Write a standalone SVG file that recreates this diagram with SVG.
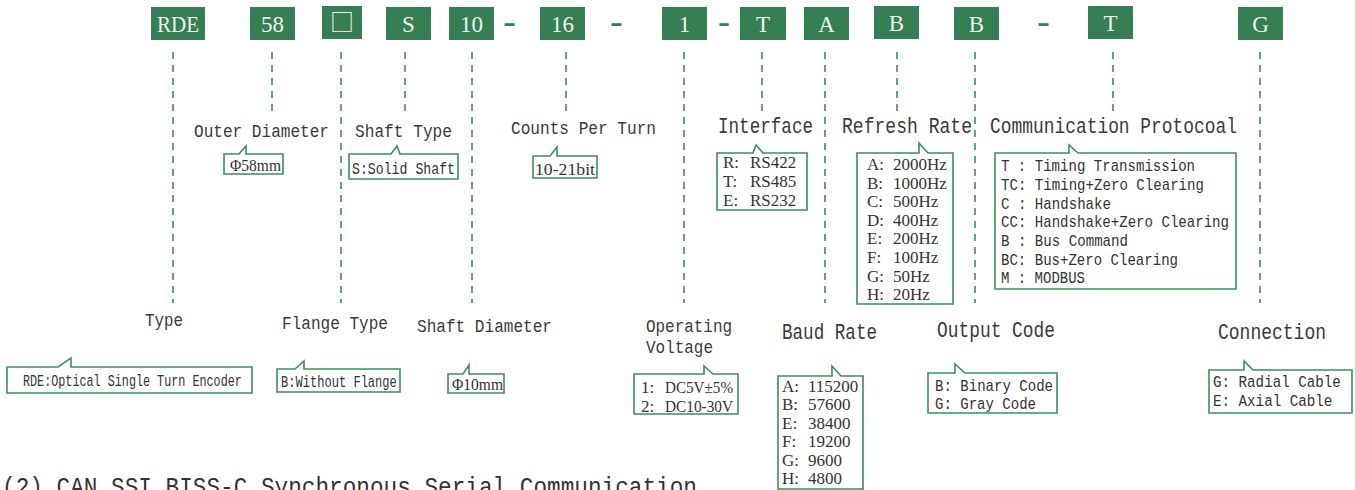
<svg xmlns="http://www.w3.org/2000/svg" width="1355" height="490" viewBox="0 0 1355 490">
<style>
.code{fill:#367e53}
.ct{font-family:"Liberation Serif",serif;font-size:23px;fill:#eef4ef;text-anchor:middle}
.dash{font-family:"Liberation Sans",sans-serif;font-weight:bold;font-size:24px;fill:#367e53}
.lead{stroke:#3f8d5e;stroke-width:1.6;stroke-dasharray:7 6;fill:none}
.ti{font-family:"Liberation Mono",monospace;font-size:19px;fill:#3a3a3a}
.tb{font-family:"Liberation Mono",monospace;font-size:22px;fill:#3a3a3a}
.call{fill:#fff;stroke:#3f8d5e;stroke-width:1.6}
.m{font-family:"Liberation Mono",monospace;font-size:17px;fill:#333}
.ms{font-family:"Liberation Mono",monospace;font-size:16px;fill:#333}
.s{font-family:"Liberation Serif","Noto Sans CJK SC",serif;font-size:17px;fill:#333}
</style>
<rect width="1355" height="490" fill="#fff"/>
<g id="connectors">
<line class="lead" x1="173" y1="52" x2="173" y2="303"/>
<line class="lead" x1="272" y1="52" x2="272" y2="117"/>
<line class="lead" x1="341" y1="52" x2="341" y2="303"/>
<line class="lead" x1="405" y1="52" x2="405" y2="117"/>
<line class="lead" x1="472" y1="52" x2="472" y2="303"/>
<line class="lead" x1="566" y1="52" x2="566" y2="117"/>
<line class="lead" x1="684" y1="52" x2="684" y2="303"/>
<line class="lead" x1="762" y1="52" x2="762" y2="117"/>
<line class="lead" x1="825" y1="52" x2="825" y2="303"/>
<line class="lead" x1="897" y1="52" x2="897" y2="117"/>
<line class="lead" x1="975" y1="52" x2="975" y2="303"/>
<line class="lead" x1="1113" y1="52" x2="1113" y2="114"/>
<line class="lead" x1="1260" y1="52" x2="1260" y2="303"/>
</g>
<g id="separators">
<text class="dash" x="503" y="31" textLength="13" lengthAdjust="spacingAndGlyphs">-</text>
<text class="dash" x="610" y="31" textLength="13" lengthAdjust="spacingAndGlyphs">-</text>
<text class="dash" x="718" y="31" textLength="12" lengthAdjust="spacingAndGlyphs">-</text>
<text class="dash" x="1037" y="31" textLength="13" lengthAdjust="spacingAndGlyphs">-</text>
</g>
<g id="type">
<rect class="code" x="151" y="7" width="54" height="33"/>
<text class="ct" x="178" y="32" textLength="42" lengthAdjust="spacingAndGlyphs">RDE</text>
<text class="ti" x="145" y="326" textLength="38" lengthAdjust="spacingAndGlyphs">Type</text>
<path class="call" d="M7,367 H58 L71,358 V367 H252 V393 H7 Z"/>
<text class="ms" x="0" y="0" transform="translate(23,386) scale(0.736,1)">RDE:Optical Single Turn Encoder</text>
</g>
<g id="outer-diameter">
<rect class="code" x="250" y="7" width="45" height="33"/>
<text class="ct" x="272.5" y="32">58</text>
<text class="ti" x="194" y="137" textLength="135" lengthAdjust="spacingAndGlyphs">Outer Diameter</text>
<path class="call" d="M224,154 H239 L246,146 V154 H283 V174 H224 Z"/>
<text class="s" x="230" y="171" textLength="51" lengthAdjust="spacingAndGlyphs">Φ58mm</text>
</g>
<g id="flange-type">
<rect class="code" x="322" y="6" width="40" height="33"/>
<text x="342" y="31" font-family="Noto Sans CJK SC,sans-serif" font-size="24" fill="#eef4ef" text-anchor="middle">□</text>
<text class="ti" x="282" y="329" textLength="106" lengthAdjust="spacingAndGlyphs">Flange Type</text>
<path class="call" d="M277,369 H295 L304,361 V369 H400 V392 H277 Z"/>
<text class="ms" x="0" y="0" transform="translate(281,387) scale(0.755,1)">B:Without Flange</text>
</g>
<g id="shaft-type">
<rect class="code" x="386" y="7" width="45" height="33"/>
<text class="ct" x="408.5" y="32">S</text>
<text class="ti" x="355" y="137" textLength="97" lengthAdjust="spacingAndGlyphs">Shaft Type</text>
<path class="call" d="M349,154 H391 L397,146 L400,154 H458 V179 H349 Z"/>
<text class="ms" x="352" y="174" textLength="103" lengthAdjust="spacingAndGlyphs">S:Solid Shaft</text>
</g>
<g id="shaft-diameter">
<rect class="code" x="449" y="7" width="45" height="33"/>
<text class="ct" x="471.5" y="32">10</text>
<text class="ti" x="417" y="332" textLength="135" lengthAdjust="spacingAndGlyphs">Shaft Diameter</text>
<path class="call" d="M448,374 H463 L469,365 V374 H504 V393 H448 Z"/>
<text class="s" x="452" y="390" textLength="51" lengthAdjust="spacingAndGlyphs">Φ10mm</text>
</g>
<g id="counts-per-turn">
<rect class="code" x="540" y="7" width="45" height="33"/>
<text class="ct" x="562.5" y="32">16</text>
<text class="ti" x="511" y="134" textLength="145" lengthAdjust="spacingAndGlyphs">Counts Per Turn</text>
<path class="call" d="M533,156 H550 L557,147 V156 H597 V178 H533 Z"/>
<text class="s" x="535" y="175" textLength="60" lengthAdjust="spacingAndGlyphs">10-21bit</text>
</g>
<g id="operating-voltage">
<rect class="code" x="662" y="7" width="45" height="33"/>
<text class="ct" x="684.5" y="32">1</text>
<text class="ti" x="646" y="332" textLength="86" lengthAdjust="spacingAndGlyphs">Operating</text>
<text class="ti" x="646" y="353" textLength="67" lengthAdjust="spacingAndGlyphs">Voltage</text>
<path class="call" d="M634,374 H704 V366 L713,374 H738 V414 H634 Z"/>
<text class="s" x="641" y="393">1:</text>
<text class="s" x="665" y="393" textLength="68" lengthAdjust="spacingAndGlyphs">DC5V±5%</text>
<text class="s" x="641" y="412">2:</text>
<text class="s" x="665" y="412" textLength="68" lengthAdjust="spacingAndGlyphs">DC10-30V</text>
</g>
<g id="interface">
<rect class="code" x="740" y="7" width="46" height="33"/>
<text class="ct" x="763" y="32">T</text>
<text class="tb" x="718" y="133" textLength="95" lengthAdjust="spacingAndGlyphs">Interface</text>
<path class="call" d="M717,153 H753 L756,145 L763,153 H807 V210 H717 Z"/>
<text class="s" x="723" y="168">R:<tspan x="750">RS422</tspan></text>
<text class="s" x="723" y="187">T:<tspan x="750">RS485</tspan></text>
<text class="s" x="723" y="206">E:<tspan x="750">RS232</tspan></text>
</g>
<g id="baud-rate">
<rect class="code" x="804" y="7" width="45" height="33"/>
<text class="ct" x="826.5" y="32">A</text>
<text class="tb" x="782" y="339" textLength="95" lengthAdjust="spacingAndGlyphs">Baud Rate</text>
<path class="call" d="M778,376 H832 V366 L841,376 H863 V489 H778 Z"/>
<text class="s" x="782" y="392">A:<tspan x="808">115200</tspan></text>
<text class="s" x="782" y="410.4">B:<tspan x="808">57600</tspan></text>
<text class="s" x="782" y="428.8">E:<tspan x="808">38400</tspan></text>
<text class="s" x="782" y="447.2">F:<tspan x="808">19200</tspan></text>
<text class="s" x="782" y="465.6">G:<tspan x="808">9600</tspan></text>
<text class="s" x="782" y="484">H:<tspan x="808">4800</tspan></text>
</g>
<g id="refresh-rate">
<rect class="code" x="874" y="6" width="45" height="33"/>
<text class="ct" x="896.5" y="31">B</text>
<text class="tb" x="842" y="133" textLength="130" lengthAdjust="spacingAndGlyphs">Refresh Rate</text>
<path class="call" d="M857,153 H919 V143 L928,153 H953 V304 H857 Z"/>
<text class="s" x="867" y="170">A:<tspan x="893">2000Hz</tspan></text>
<text class="s" x="867" y="188.6">B:<tspan x="893">1000Hz</tspan></text>
<text class="s" x="867" y="207.2">C:<tspan x="893">500Hz</tspan></text>
<text class="s" x="867" y="225.8">D:<tspan x="893">400Hz</tspan></text>
<text class="s" x="867" y="244.4">E:<tspan x="893">200Hz</tspan></text>
<text class="s" x="867" y="263">F:<tspan x="893">100Hz</tspan></text>
<text class="s" x="867" y="281.6">G:<tspan x="893">50Hz</tspan></text>
<text class="s" x="867" y="300.2">H:<tspan x="893">20Hz</tspan></text>
</g>
<g id="output-code">
<rect class="code" x="954" y="7" width="45" height="33"/>
<text class="ct" x="976.5" y="32">B</text>
<text class="tb" x="937" y="337" textLength="118" lengthAdjust="spacingAndGlyphs">Output Code</text>
<path class="call" d="M928,373 H955 V364 L965,373 H1057 V413 H928 Z"/>
<text class="m" x="935" y="391" textLength="118" lengthAdjust="spacingAndGlyphs">B: Binary Code</text>
<text class="m" x="935" y="409" textLength="101" lengthAdjust="spacingAndGlyphs">G: Gray Code</text>
</g>
<g id="communication-protocol">
<rect class="code" x="1088" y="6" width="45" height="33"/>
<text class="ct" x="1110.5" y="31">T</text>
<text class="tb" x="990" y="133" textLength="247" lengthAdjust="spacingAndGlyphs">Communication Protocoal</text>
<path class="call" d="M995,153 H1069 V145 L1078,153 H1236 V289 H995 Z"/>
<text class="m" x="1001" y="171" textLength="194" lengthAdjust="spacingAndGlyphs">T : Timing Transmission</text>
<text class="m" x="1001" y="190" textLength="203" lengthAdjust="spacingAndGlyphs">TC: Timing+Zero Clearing</text>
<text class="m" x="1001" y="208.5" textLength="110" lengthAdjust="spacingAndGlyphs">C : Handshake</text>
<text class="m" x="1001" y="227" textLength="228" lengthAdjust="spacingAndGlyphs">CC: Handshake+Zero Clearing</text>
<text class="m" x="1001" y="246" textLength="127" lengthAdjust="spacingAndGlyphs">B : Bus Command</text>
<text class="m" x="1001" y="265" textLength="177" lengthAdjust="spacingAndGlyphs">BC: Bus+Zero Clearing</text>
<text class="m" x="1001" y="283" textLength="84" lengthAdjust="spacingAndGlyphs">M : MODBUS</text>
</g>
<g id="connection">
<rect class="code" x="1238" y="7" width="45" height="33"/>
<text class="ct" x="1260.5" y="32">G</text>
<text class="tb" x="1218" y="339" textLength="108" lengthAdjust="spacingAndGlyphs">Connection</text>
<path class="call" d="M1209,370 H1244 V361 L1253,370 H1352 V413 H1209 Z"/>
<text class="m" x="0" y="0" transform="translate(1213,387) scale(0.836,1)">G: Radial Cable</text>
<text class="m" x="0" y="0" transform="translate(1213,406) scale(0.836,1)">E: Axial Cable</text>
</g>
<text id="next-heading" x="2" y="495" font-family="Liberation Mono,monospace" font-size="25" fill="#333" textLength="695" lengthAdjust="spacingAndGlyphs">(2) CAN SSI BISS-C Synchronous Serial Communication</text>
</svg>
